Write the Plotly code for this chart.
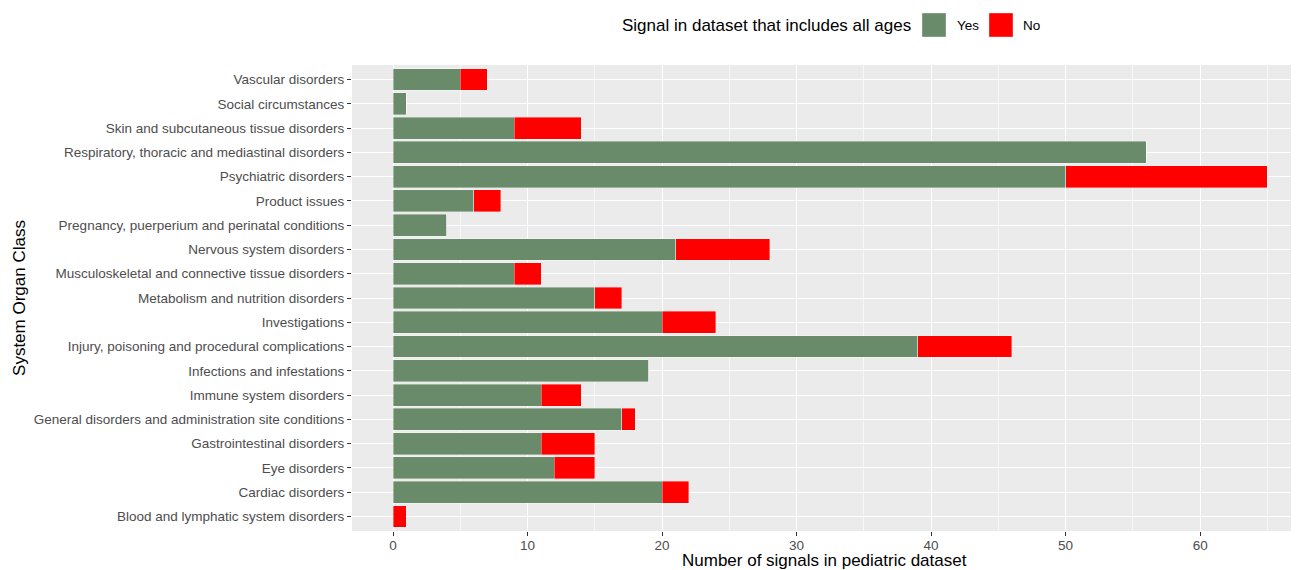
import plotly.graph_objects as go

categories = [
    "Blood and lymphatic system disorders",
    "Cardiac disorders",
    "Eye disorders",
    "Gastrointestinal disorders",
    "General disorders and administration site conditions",
    "Immune system disorders",
    "Infections and infestations",
    "Injury, poisoning and procedural complications",
    "Investigations",
    "Metabolism and nutrition disorders",
    "Musculoskeletal and connective tissue disorders",
    "Nervous system disorders",
    "Pregnancy, puerperium and perinatal conditions",
    "Product issues",
    "Psychiatric disorders",
    "Respiratory, thoracic and mediastinal disorders",
    "Skin and subcutaneous tissue disorders",
    "Social circumstances",
    "Vascular disorders",
]
yes_values = [0, 20, 12, 11, 17, 11, 19, 39, 20, 15, 9, 21, 4, 6, 50, 56, 9, 1, 5]
no_values = [1, 2, 3, 4, 1, 3, 0, 7, 4, 2, 2, 7, 0, 2, 15, 0, 5, 0, 2]
x_ticks = [0, 10, 20, 30, 40, 50, 60]
legend_title = "Signal in dataset that includes all ages"
legend_labels = ["Yes", "No"]
x_title = "Number of signals in pediatric dataset"
y_title = "System Organ Class"

GREEN = "#698B69"
RED = "#FF0000"
FONT = "Liberation Sans, Arial, sans-serif"

# page body has an 8px margin; figure sized to fit the window
W, H = 1291, 562
ML, MR, MT, MB = 344, 2, 57, 39
PW = W - ML - MR
PH = H - MT - MB

def px_x(px):  # window pixel -> paper x
    return (px - 8 - ML) / PW

def px_y(py):  # window pixel -> paper y
    return 1 + (MT - (py - 8)) / PH

fig = go.Figure()
fig.add_trace(go.Bar(
    y=categories, x=yes_values, orientation="h", name=legend_labels[0],
    marker=dict(color=GREEN, line=dict(color="rgba(255,255,255,0.6)", width=0.6)),
    width=0.9, showlegend=False,
))
fig.add_trace(go.Bar(
    y=categories, x=no_values, orientation="h", name=legend_labels[1],
    marker=dict(color=RED, line=dict(color="rgba(255,255,255,0.6)", width=0.6)),
    width=0.9, showlegend=False,
))

# legend drawn as key squares + text (ggplot-style large keys)
fig.add_annotation(text=legend_title, xref="paper", yref="paper",
                   x=px_x(620), y=px_y(25), xanchor="left", yanchor="middle",
                   showarrow=False, font=dict(size=17, color="#000000"))
for (x0, col, lab_x, lab) in [(922, GREEN, 955, legend_labels[0]), (989, RED, 1021, legend_labels[1])]:
    fig.add_shape(type="rect", xref="paper", yref="paper",
                  x0=px_x(x0), x1=px_x(x0 + 24), y0=px_y(37), y1=px_y(13),
                  fillcolor=col, line=dict(color="rgba(255,255,255,0.6)", width=0.6))
    fig.add_annotation(text=lab, xref="paper", yref="paper",
                       x=px_x(lab_x), y=px_y(25), xanchor="left", yanchor="middle",
                       showarrow=False, font=dict(size=13.5, color="#000000"))

# x-axis title near the bottom edge, as in the reference
fig.add_annotation(text=x_title, xref="paper", yref="paper",
                   x=0.5, y=px_y(560.5), xanchor="center", yanchor="middle",
                   showarrow=False, font=dict(size=17, color="#000000"))

fig.update_layout(
    barmode="stack",
    width=W, height=H,
    margin=dict(l=ML, r=MR, t=MT, b=MB),
    paper_bgcolor="white",
    plot_bgcolor="#EBEBEB",
    font=dict(family=FONT, size=13.5, color="#000000"),
    showlegend=False,
)

fig.update_xaxes(
    range=[-3.05, 67.2],
    tickvals=x_ticks,
    ticktext=[str(v) for v in x_ticks],
    showgrid=True, gridcolor="white", gridwidth=1.3,
    minor=dict(dtick=5, tick0=5, showgrid=True, gridcolor="#F7F7F7", gridwidth=0.6, ticks=""),
    zeroline=False,
    ticks="outside", ticklen=4, tickcolor="#333333", tickwidth=1,
    ticklabelstandoff=-2,
    tickfont=dict(size=13.5, color="#4D4D4D"),
    automargin=False,
    showline=False,
)
fig.update_yaxes(
    categoryorder="array", categoryarray=categories,
    range=[-0.6, 18.6],
    showgrid=True, gridcolor="white", gridwidth=1.3,
    ticks="outside", ticklen=4, tickcolor="#333333", tickwidth=1,
    tickfont=dict(size=13.5, color="#4D4D4D"),
    title=dict(text=y_title, font=dict(size=17, color="#000000"), standoff=3),
    automargin=False,
    showline=False,
)

fig.write_html("out.html")
